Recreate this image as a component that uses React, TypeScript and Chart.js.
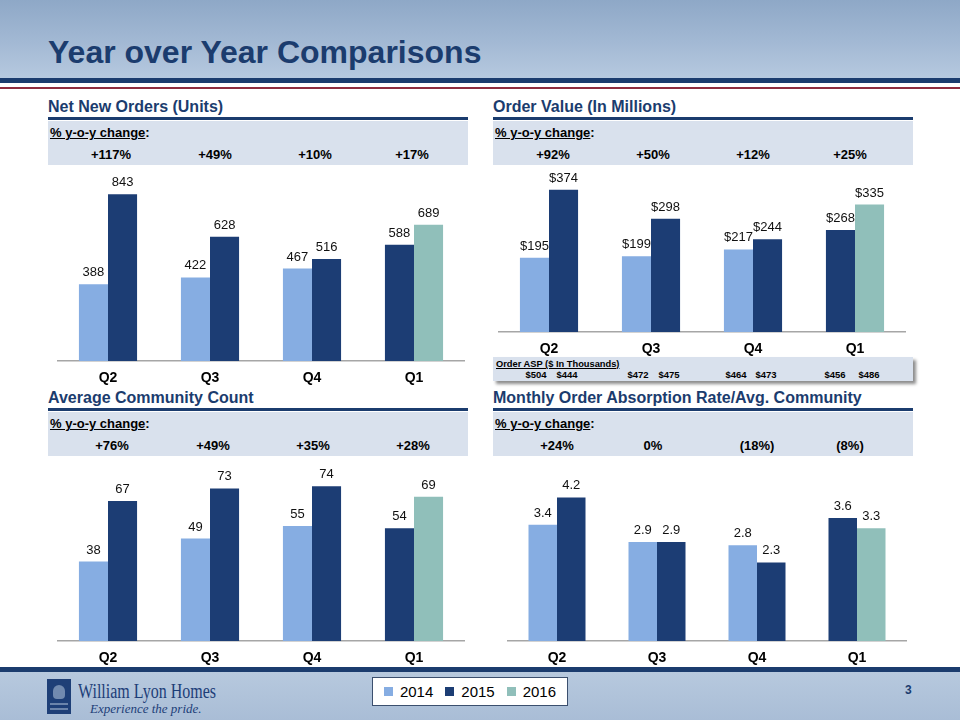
import React, { useEffect, useRef } from 'react';
import { Chart, registerables } from 'chart.js';

Chart.register(...registerables);

// ---------- DATA ----------
const QUARTERS = ['Q2', 'Q3', 'Q4', 'Q1'];
const PRIOR_YEAR = ['2014', '2014', '2014', '2015'];
const CURRENT_YEAR = ['2015', '2015', '2015', '2016'];
const LEGEND_YEARS = ['2014', '2015', '2016'];

const ORDERS_PRIOR = [388, 422, 467, 588];
const ORDERS_CURRENT = [843, 628, 516, 689];
const ORDERS_YOY = ['+117%', '+49%', '+10%', '+17%'];

const VALUE_PRIOR = [195, 199, 217, 268];
const VALUE_CURRENT = [374, 298, 244, 335];
const VALUE_YOY = ['+92%', '+50%', '+12%', '+25%'];

const ASP_PRIOR = ['$504', '$472', '$464', '$456'];
const ASP_CURRENT = ['$444', '$475', '$473', '$486'];

const COMMUNITY_PRIOR = [38, 49, 55, 54];
const COMMUNITY_CURRENT = [67, 73, 74, 69];
const COMMUNITY_YOY = ['+76%', '+49%', '+35%', '+28%'];

const ABSORPTION_PRIOR = [3.4, 2.9, 2.8, 3.6];
const ABSORPTION_CURRENT = [4.2, 2.9, 2.3, 3.3];
const ABSORPTION_YOY = ['+24%', '0%', '(18%)', '(8%)'];

// ---------- STYLE ----------
const FONT = '"Liberation Sans", Arial, Helvetica, sans-serif';
const SERIF = '"Liberation Serif", "Times New Roman", serif';
const NAVY = '#1B3C6E';
const BOX_BG = '#D9E1ED';
const YEAR_COLORS: Record<string, string> = {
  '2014': '#86ADE2',
  '2015': '#1C3D74',
  '2016': '#90BFBA',
};
const AXIS_H = 30;

type ChartProps = {
  prior: number[];
  current: number[];
  max: number;
  fmt: (v: number) => string;
  left: number;
  width: number;
  plotTop: number;
  baseline: number;
};

function BarChart({ prior, current, max, fmt, left, width, plotTop, baseline }: ChartProps) {
  const ref = useRef<HTMLCanvasElement | null>(null);
  useEffect(() => {
    if (!ref.current) return;
    const labelPlugin = {
      id: 'barValueLabels',
      afterDatasetsDraw(chart: any) {
        const ctx = chart.ctx;
        ctx.save();
        ctx.font = `13px ${FONT}`;
        ctx.fillStyle = '#111111';
        ctx.textAlign = 'center';
        ctx.textBaseline = 'alphabetic';
        chart.data.datasets.forEach((ds: any, i: number) => {
          const meta = chart.getDatasetMeta(i);
          meta.data.forEach((el: any, j: number) => {
            ctx.fillText(fmt(ds.data[j]), el.x, el.y - 8);
          });
        });
        ctx.restore();
      },
    };
    const chart = new Chart(ref.current, {
      type: 'bar',
      data: {
        labels: QUARTERS,
        datasets: [
          {
            label: 'Prior year',
            data: prior,
            backgroundColor: PRIOR_YEAR.map((y) => YEAR_COLORS[y]),
            barPercentage: 1,
            categoryPercentage: 0.57,
          },
          {
            label: 'Current year',
            data: current,
            backgroundColor: CURRENT_YEAR.map((y) => YEAR_COLORS[y]),
            barPercentage: 1,
            categoryPercentage: 0.57,
          },
        ],
      },
      options: {
        responsive: false,
        animation: false,
        devicePixelRatio: 1,
        layout: { padding: 0 },
        plugins: {
          legend: { display: false },
          tooltip: { enabled: false },
          title: { display: false },
        },
        scales: {
          x: {
            grid: { display: false, drawTicks: false },
            border: { display: true, color: '#A6A6A6', width: 1.5 },
            ticks: {
              color: '#000000',
              padding: 9,
              font: { family: FONT, size: 14, weight: 'bold' },
            },
            afterFit: (s: any) => {
              s.height = AXIS_H;
            },
          },
          y: { display: false, min: 0, max },
        },
      },
      plugins: [labelPlugin],
    } as any);
    return () => chart.destroy();
  }, []);
  const h = baseline - plotTop + AXIS_H;
  return (
    <canvas
      ref={ref}
      width={width}
      height={h}
      style={{ position: 'absolute', left, top: plotTop, width, height: h }}
    />
  );
}

function abs(left: number, top: number, extra: React.CSSProperties = {}): React.CSSProperties {
  return { position: 'absolute', left, top, ...extra };
}

function Section({
  title,
  left,
  titleTop,
  yoy,
  yoyX,
}: {
  title: string;
  left: number;
  titleTop: number;
  yoy: string[];
  yoyX: number[];
}) {
  return (
    <>
      <div
        style={abs(left, titleTop, {
          fontSize: 16,
          lineHeight: '20px',
          fontWeight: 'bold',
          color: NAVY,
          whiteSpace: 'nowrap',
        })}
      >
        {title}
      </div>
      <div style={abs(left, titleTop + 20, { width: 420, height: 2.5, background: NAVY })} />
      <div style={abs(left, titleTop + 24, { width: 420, height: 44, background: BOX_BG })} />
      <div
        style={abs(left + 2, titleTop + 26, {
          fontSize: 13,
          lineHeight: '20px',
          fontWeight: 'bold',
          color: '#000',
          whiteSpace: 'nowrap',
        })}
      >
        <span style={{ textDecoration: 'underline' }}>% y-o-y change</span>:
      </div>
      {yoy.map((v, i) => (
        <div
          key={i}
          style={abs(yoyX[i] - 40, titleTop + 48, {
            width: 80,
            textAlign: 'center',
            fontSize: 13,
            lineHeight: '20px',
            fontWeight: 'bold',
            color: '#000',
          })}
        >
          {v}
        </div>
      ))}
    </>
  );
}

export default function App() {
  const aspPriorX = [536, 638, 736, 835];
  const aspCurrentX = [567, 669, 766, 869];
  return (
    <div
      style={{
        position: 'fixed',
        left: 0,
        top: 0,
        width: 960,
        height: 720,
        overflow: 'hidden',
        background: '#FFFFFF',
        fontFamily: FONT,
      }}
    >
      {/* Header */}
      <div
        style={abs(0, 0, {
          width: 960,
          height: 78,
          background: 'linear-gradient(to bottom, #8EA8C7 0%, #A3B9D4 55%, #B6C9DF 100%)',
        })}
      />
      <div style={abs(0, 78, { width: 960, height: 5, background: NAVY })} />
      <div style={abs(0, 86.5, { width: 960, height: 2, background: '#8E2D3F' })} />
      <div
        style={abs(48, 36, {
          fontSize: 32,
          lineHeight: '32px',
          fontWeight: 'bold',
          color: NAVY,
          whiteSpace: 'nowrap',
        })}
      >
        Year over Year Comparisons
      </div>

      {/* Sections */}
      <Section title="Net New Orders (Units)" left={48} titleTop={97} yoy={ORDERS_YOY} yoyX={[111, 215, 315, 412]} />
      <Section title="Order Value (In Millions)" left={493} titleTop={97} yoy={VALUE_YOY} yoyX={[553, 653, 753, 850]} />
      <Section title="Average Community Count" left={48} titleTop={388} yoy={COMMUNITY_YOY} yoyX={[112, 213, 313, 413]} />
      <Section
        title="Monthly Order Absorption Rate/Avg. Community"
        left={493}
        titleTop={388}
        yoy={ABSORPTION_YOY}
        yoyX={[557, 653, 757, 850]}
      />

      {/* Footer */}
      <div style={abs(0, 667, { width: 960, height: 5, background: NAVY })} />
      <div
        style={abs(0, 672, {
          width: 960,
          height: 48,
          background: 'linear-gradient(to bottom, #B7C9DE 0%, #A9BDD6 100%)',
        })}
      />
      <div style={abs(47, 679, { width: 24, height: 35, background: '#1E3F77' })}>
        <div style={abs(6, 6, { width: 12, height: 14, borderRadius: '6px 6px 4px 4px', background: '#B7C9DE', opacity: 0.55 })} />
        <div style={abs(3, 24, { width: 18, height: 2, background: '#B7C9DE', opacity: 0.5 })} />
        <div style={abs(3, 29, { width: 18, height: 2, background: '#B7C9DE', opacity: 0.5 })} />
      </div>
      <div
        style={abs(78, 680, {
          fontFamily: SERIF,
          fontSize: 20,
          lineHeight: '22px',
          color: '#1D3E78',
          whiteSpace: 'nowrap',
          transform: 'scaleX(0.8)',
          transformOrigin: 'left top',
        })}
      >
        William Lyon Homes
      </div>
      <div
        style={abs(90, 701, {
          fontFamily: SERIF,
          fontStyle: 'italic',
          fontSize: 13,
          lineHeight: '16px',
          color: '#1D3E78',
          whiteSpace: 'nowrap',
        })}
      >
        Experience the pride.
      </div>
      <div
        style={abs(372, 677, {
          width: 196,
          height: 29,
          boxSizing: 'border-box',
          background: '#FFFFFF',
          border: '1px solid #3B4F6E',
          display: 'flex',
          alignItems: 'center',
          justifyContent: 'center',
          gap: 12,
        })}
      >
        {LEGEND_YEARS.map((y) => (
          <div key={y} style={{ display: 'flex', alignItems: 'center', gap: 7 }}>
            <div style={{ width: 9, height: 9, background: YEAR_COLORS[y] }} />
            <span style={{ fontSize: 15, lineHeight: '18px', color: '#000' }}>{y}</span>
          </div>
        ))}
      </div>
      <div style={abs(905, 682, { fontSize: 12, lineHeight: '16px', fontWeight: 'bold', color: NAVY })}>3</div>

      {/* ASP box */}
      <div
        style={abs(493, 357, {
          width: 420,
          height: 24,
          background: BOX_BG,
          boxShadow: '3px 3px 3px rgba(0,0,0,0.45)',
        })}
      />
      <div
        style={abs(496, 358, {
          fontSize: 9.3,
          lineHeight: '12px',
          fontWeight: 'bold',
          textDecoration: 'underline',
          color: '#000',
          whiteSpace: 'nowrap',
        })}
      >
        Order ASP ($ In Thousands)
      </div>
      {ASP_PRIOR.map((v, i) => (
        <div
          key={'p' + i}
          style={abs(aspPriorX[i] - 20, 369, {
            width: 40,
            textAlign: 'center',
            fontSize: 9.5,
            lineHeight: '12px',
            fontWeight: 'bold',
            color: '#000',
          })}
        >
          {v}
        </div>
      ))}
      {ASP_CURRENT.map((v, i) => (
        <div
          key={'c' + i}
          style={abs(aspCurrentX[i] - 20, 369, {
            width: 40,
            textAlign: 'center',
            fontSize: 9.5,
            lineHeight: '12px',
            fontWeight: 'bold',
            color: '#000',
          })}
        >
          {v}
        </div>
      ))}

      {/* Charts */}
      <BarChart
        prior={ORDERS_PRIOR}
        current={ORDERS_CURRENT}
        max={950}
        fmt={(v) => String(v)}
        left={57}
        width={408}
        plotTop={173}
        baseline={361}
      />
      <BarChart
        prior={VALUE_PRIOR}
        current={VALUE_CURRENT}
        max={426}
        fmt={(v) => '$' + v}
        left={498}
        width={408}
        plotTop={170}
        baseline={332}
      />
      <BarChart
        prior={COMMUNITY_PRIOR}
        current={COMMUNITY_CURRENT}
        max={84.2}
        fmt={(v) => String(v)}
        left={57}
        width={408}
        plotTop={465}
        baseline={641}
      />
      <BarChart
        prior={ABSORPTION_PRIOR}
        current={ABSORPTION_CURRENT}
        max={5.15}
        fmt={(v) => v.toFixed(1)}
        left={507}
        width={400}
        plotTop={465}
        baseline={641}
      />
    </div>
  );
}
